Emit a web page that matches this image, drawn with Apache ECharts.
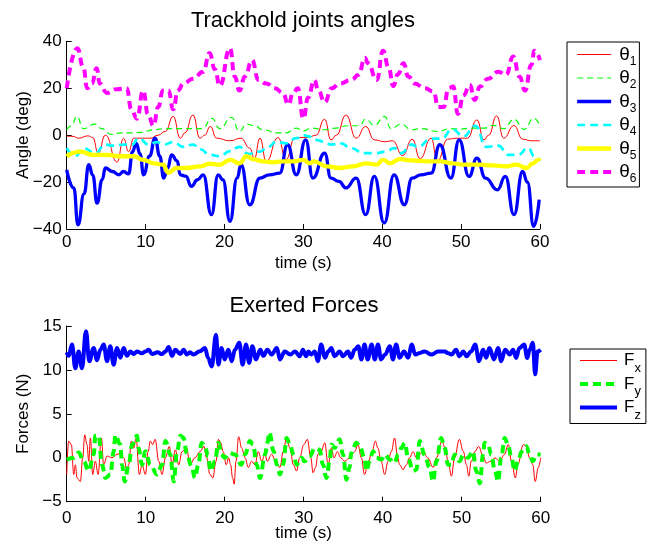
<!DOCTYPE html>
<html><head><meta charset="utf-8">
<script src="https://cdn.jsdelivr.net/npm/echarts/dist/echarts.min.js"></script>
<style>html,body{margin:0;padding:0;background:#fff}#c{width:647px;height:542px}</style>
</head><body><div id="c"></div>
<script>
// ---- data: [time (s), value] ----
const timeTicks = [0, 10, 20, 30, 40, 50, 60];
const angleTicks = [-40, -20, 0, 20, 40];
const forceTicks = [-5, 0, 5, 10, 15];
const angleNames = ['θ1','θ2','θ3','θ4','θ5','θ6'];
const forceNames = ['Fx','Fy','Fz'];

const theta1 = [[0,-0.5],[0.8,-0.5],[1.5,-1.3],[2.7,-0.3],[3.3,-1],[4.0,-7.7],[4.9,0],[6.4,-11.5],[7.2,-1.3],[7.85,-7],[8.5,-1.3],[9.5,-1.3],[10.6,-1.3],[11.6,0],[12.5,1.6],[13.5,8],[14.4,-1.3],[15.0,1],[16.0,8.6],[16.9,-1.3],[17.5,0],[18.2,3.7],[19.0,-1.3],[20.7,-2.4],[22.1,-1.3],[23.2,-5.5],[23.8,-9.8],[24.5,-1.3],[25.3,-11.2],[26.8,-1],[27.8,-10.5],[28.9,-1.3],[29.5,-1],[30.6,-1],[31.6,0],[32.7,6.8],[33.5,-2],[34.2,0],[35.4,8.6],[36.7,-1.3],[37.9,3.7],[39.0,-2],[40.3,-2.8],[41.3,-2.4],[42.6,-8.7],[43.8,-1.7],[44.8,-10],[46.2,-1.3],[47.0,-11],[48.3,-1.7],[49.5,-1.3],[50.8,-1.3],[52.0,6.5],[52.9,-2],[53.5,0],[54.5,8.2],[55.4,-1.3],[56.7,4.1],[57.8,-1.7],[58.9,-2.4],[60,-2.4]];
const theta2 = [[0,2.3],[0.6,4],[1.3,8],[2.1,2.8],[3.6,4.7],[4.4,2.8],[5.7,0.3],[6.9,1],[8.3,1],[9.5,1.2],[11,2.3],[12.5,2.8],[14.6,2.8],[16,2.8],[17.2,2.8],[18.4,7.2],[19.4,2.8],[20.9,7.6],[21.9,1.6],[22.8,4.7],[23.7,4.2],[24.9,2.3],[26.6,1],[27.8,1],[29.1,3],[30,1.8],[31,3],[32.7,2.3],[34.2,3],[35.6,4],[37.1,4],[37.9,6.8],[39,4.2],[40.3,8],[41.1,2.8],[42.4,4.7],[43.7,2.3],[44.9,2.8],[47,1.6],[48.7,2.8],[49.9,2.6],[51.2,3],[52.9,3],[54.1,4.2],[55.4,2.8],[56.7,6.8],[58,2.5],[59.2,7.2],[60,4]];
const theta3 = [[0,-14.8],[0.9,-22.5],[1.43,-38.2],[2.2,-25],[2.8,-12.6],[3.3,-17],[3.85,-29],[4.5,-19],[4.9,-14],[5.8,-15.5],[6.6,-16.9],[7.2,-15.5],[7.85,-16.5],[8.35,-7],[8.8,-3.4],[9.3,-8],[9.75,-16.9],[10.5,-9],[11.2,-1.3],[11.8,-9],[12.3,-18.3],[12.8,-14],[13.3,-8.4],[14.0,-11],[14.4,-16.9],[15.1,-17.5],[15.8,-21.8],[16.6,-19],[17.3,-16.9],[18.35,-33.9],[19.2,-16.9],[19.8,-19],[20.7,-36.7],[21.6,-18.3],[22.1,-12.6],[23.2,-29.7],[24.5,-18.3],[25.7,-16.9],[27,-16.2],[28,-4.1],[29.1,-16.9],[30.3,-2],[31.2,-18.3],[32.7,-7.7],[33.5,-18.3],[34.5,-19.7],[35.4,-22.5],[36.7,-18.3],[37.9,-33.9],[39,-17.6],[40.25,-37.4],[41.5,-16.9],[42.8,-29.7],[43.8,-18.3],[44.9,-16.9],[46.2,-16.2],[47.3,-4.1],[48.7,-18.3],[49.75,-2],[51,-17.6],[52,-9.8],[53.1,-18.3],[54.6,-23.3],[55.6,-17.6],[56.7,-33.9],[57.8,-15.5],[58.4,-20],[59.2,-38.9],[59.9,-27.5]];
const theta4 = [[0,-5.5],[1.1,-9],[2.1,-5.5],[3.6,-7.7],[4.9,-4],[5.9,-4.5],[7.2,-4],[8.3,-4],[9.1,-1.3],[10.4,-4],[11.4,-3],[12.3,-4],[13.5,-3],[14.8,-5],[16,-4],[16.9,-6],[18.2,-8.4],[19.4,-9],[20.7,-6.8],[21.9,-5],[23,-8],[24.5,-7],[25.5,-5],[26.6,-2.8],[27.8,-3.5],[29.1,-1.3],[30,0],[30.6,-0.5],[31.6,-2],[32.6,-2.8],[33.5,-4],[34.8,-3.5],[36,-5.5],[37.7,-7.7],[39.2,-7.7],[40.5,-7],[41.5,-5.5],[42.4,-7.7],[43.7,-4],[44.5,-5],[46.2,-1.5],[47.5,-1.5],[48.9,2.5],[50.3,-0.5],[51.8,4],[53.2,-5],[54.7,-4.5],[56,-8.4],[57.2,-8.4],[58.5,-5.5],[59.3,-9],[60,-11]];
const theta5 = [[0,-9],[1.7,-7],[3.4,-8.4],[5.1,-8.4],[6.8,-9],[8.5,-9],[9.7,-10.5],[11,-12],[12.2,-12.6],[12.9,-16],[13.9,-14],[15.2,-14],[16.9,-13.3],[18.1,-12.2],[19.4,-12.6],[20.7,-10.5],[21.9,-12],[22.8,-9],[23.6,-10.2],[24.9,-11.2],[26.1,-11.6],[27.4,-11.2],[28.7,-11.2],[30,-10.5],[30.8,-12],[31.3,-11.2],[33,-13.3],[34.6,-14],[36.3,-13.3],[38,-12],[39.3,-12.6],[40.1,-10.5],[41,-12],[42.2,-10.2],[43.9,-10.8],[45.6,-11.2],[47.3,-11.2],[49,-12],[50.3,-12.6],[52.4,-12.6],[54,-12.9],[55.7,-13.3],[57,-12.6],[58.3,-14],[59.1,-12],[59.8,-10.5],[60,-11]];
const theta6 = [[0,20],[1.35,37],[2.1,29],[2.6,20],[3.2,22],[3.8,28.5],[4.2,22],[5.1,18],[6.3,19.6],[7.6,20],[8.2,11],[8.9,7],[9.7,19],[10.3,9],[11,4],[11.6,12],[12.2,19],[12.9,19],[13.5,11],[14.1,19],[14.8,22],[16,24],[17.3,27],[18.1,35],[18.8,28],[19.4,21],[20.7,37],[21.3,25],[21.9,19],[22.6,25],[23.5,32],[24.3,23.5],[25.3,22],[26.4,20],[27.4,18],[28.1,13],[28.7,18],[29.3,20],[30,7],[30.6,16],[31.4,23.5],[31.9,19],[32.7,14],[33.6,20],[34.6,22],[36.1,23.5],[37,25.7],[37.8,33],[38.2,30.6],[39.3,23.5],[40.1,36],[40.8,29],[41.4,21],[42,26],[42.7,30.6],[43.3,25],[44.1,22],[45.4,20],[46.5,18.6],[47.1,12],[47.8,12],[48.4,20],[49,20.7],[49.6,9],[50.3,17],[51.1,21.4],[51.7,15],[52.4,20.7],[53.4,24],[54.7,27],[55.7,25.7],[56.6,33.5],[57.4,25],[58.1,19],[58.9,30],[59.3,36],[60,32]];

const forceX = [[0,-1.9],[0.25,1.9],[0.59,1.5],[0.89,-1.9],[1.1,-0.8],[1.31,-2.3],[1.73,-2.7],[2.03,0],[2.28,2.6],[2.57,1.5],[2.79,-0.4],[3.0,2.25],[3.29,-1.9],[3.63,-0.4],[3.97,-1.9],[4.39,2.25],[4.68,-0.8],[5.1,0.2],[5.74,0],[6.37,0.4],[6.79,0.5],[7.22,0],[7.64,-1.5],[7.85,-0.8],[8.19,1.9],[8.48,1.1],[8.78,2.25],[9.2,-1.9],[9.54,-0.8],[9.96,-1.9],[10.3,0.7],[10.59,1.9],[10.89,1.5],[11.2,2.1],[11.65,-0.4],[12.07,-1.9],[12.49,0],[13.0,1.3],[13.33,-0.8],[13.76,0.9],[14.18,-0.8],[14.6,0.7],[15.18,1.1],[15.6,-0.8],[16.24,0],[16.87,0.7],[17.38,1.3],[17.7,0],[18.14,-1.9],[18.5,-2.3],[18.9,-0.4],[19.2,2.1],[19.5,1.7],[19.8,0.7],[20.2,-0.8],[20.5,0],[20.75,-0.8],[21.0,-2.3],[21.2,-3.0],[21.43,-0.4],[21.77,2.4],[22.15,1.1],[22.57,0],[23.0,-1.1],[23.4,-0.4],[23.83,-0.8],[24.26,0.7],[24.68,-0.4],[25.1,0.4],[25.4,-0.4],[25.94,0.4],[26.37,-0.2],[27.0,-1.1],[27.4,0.7],[27.84,2.25],[28.26,1.1],[28.69,-0.8],[29.1,-1.5],[29.5,0],[30.0,1.5],[30.46,2.1],[30.9,0],[31.18,-1.7],[31.5,-1.1],[31.8,0.4],[32.2,0.7],[32.66,1.7],[33.1,-0.8],[33.5,1.1],[33.84,0],[34.26,0.7],[34.68,0],[35.2,-0.4],[35.8,0],[36.45,0.7],[36.87,1.5],[37.3,0],[37.7,-1.9],[38.1,-0.8],[38.65,0.7],[39.07,1.9],[39.4,1.1],[39.8,-0.4],[40.25,-1.9],[40.67,-0.4],[41.1,0.7],[41.5,2.25],[41.9,0],[42.15,-0.8],[42.57,-1.35],[43.0,-0.8],[43.4,0],[43.84,0.7],[44.26,0],[44.7,0.4],[45.1,0.74],[45.7,0],[46.4,-1.1],[46.8,0],[47.5,1.9],[47.9,1.1],[48.35,-0.8],[48.7,-2.1],[49.1,0],[49.7,2.1],[50.2,0.74],[50.6,-0.8],[50.9,-2.1],[51.2,-0.4],[51.7,0.74],[52.15,1.3],[52.7,0.2],[53.1,-0.6],[53.7,-0.4],[54.2,0],[54.8,-0.4],[55.4,0.36],[55.9,1.5],[56.3,-0.4],[56.8,-2.3],[57.1,-0.78],[57.8,1.5],[58.2,1.3],[58.6,0],[59.0,-0.78],[59.3,-2.7],[59.7,-1.1],[60,0]];
const forceY = [[0,-0.2],[0.89,0],[1.52,0.6],[2.15,-0.4],[2.79,-1.5],[3.42,0.4],[3.63,2.5],[4.05,2.5],[4.47,-0.8],[4.9,-2.3],[5.53,-1.9],[5.95,0.74],[6.16,2.6],[6.79,1.5],[7.0,-0.8],[7.34,-2.7],[7.85,-0.8],[8.27,1.5],[8.9,2.5],[9.1,1.1],[9.54,-0.8],[9.96,0.74],[10.59,-0.8],[11.44,-1.9],[12.07,-0.8],[12.49,1.9],[13.1,0.4],[13.54,-2.7],[13.97,0.74],[14.39,2.5],[14.8,2.25],[15.18,0.55],[15.8,-0.97],[16.24,-2.3],[16.66,-0.8],[17.08,1.7],[17.5,1.3],[17.9,0.17],[18.2,-1.5],[18.77,-0.4],[19.19,1.7],[19.6,0.36],[20.0,0],[20.6,0.55],[21.3,0.36],[22.1,-0.78],[22.57,0.36],[23.2,1.9],[23.6,1.5],[24.05,-0.78],[24.47,-2.3],[25.1,0.36],[25.4,1.7],[25.65,2.9],[26.2,0.74],[26.6,-0.78],[27.0,-1.9],[27.4,-0.78],[27.84,2.25],[28.26,1.5],[28.7,0.36],[29.1,-0.78],[29.74,0],[30.1,-0.4],[30.76,0.17],[31.4,1.1],[32.0,0.93],[32.44,-0.78],[32.87,-2.3],[33.29,-0.4],[33.5,1.5],[33.9,1.1],[34.55,2.1],[34.98,0.36],[35.4,-2.5],[35.8,-1.1],[36.03,0.55],[36.66,1.7],[37.1,1.3],[37.7,0],[37.93,-1.5],[38.35,-0.4],[38.77,0.74],[39.2,0],[39.83,-0.2],[40.3,0.36],[40.88,-0.2],[41.5,-0.6],[41.94,0.36],[42.36,1.1],[42.8,1.7],[43.2,0],[43.84,-1.5],[44.26,-1.35],[44.68,1.9],[45.3,0.36],[45.95,-1.15],[46.37,-2.7],[46.8,-0.4],[47.4,2.25],[47.85,1.1],[48.27,-0.8],[48.7,-0.8],[49.1,0.36],[49.74,-0.4],[50.2,0.36],[50.8,0],[51.4,0.74],[51.85,-1.5],[52.3,-2.9],[52.7,0.36],[52.9,1.7],[53.33,1.5],[53.75,0.36],[54.2,-1.5],[54.6,-2.7],[55.0,0],[55.44,2.25],[55.86,1.5],[56.3,0],[56.7,-1.5],[57.13,-0.4],[57.6,0.74],[58.18,1.3],[58.6,0.36],[59.0,-0.4],[59.45,0.36],[60,0.36]];
const forceZ = [[0,12.0],[0.25,11.6],[0.67,12.9],[1.09,10.2],[1.51,12.1],[1.94,10.2],[2.44,14.4],[2.86,11.0],[3.41,12.5],[3.84,11.1],[4.26,12.3],[4.68,12.9],[5.1,11.0],[5.52,12.7],[5.94,10.6],[6.37,12.5],[6.79,11.4],[7.21,12.5],[7.63,11.6],[8.05,12.1],[8.47,11.8],[8.9,12.1],[9.5,11.9],[10.0,12.1],[10.37,12.3],[10.8,11.8],[11.5,12.0],[12.06,11.8],[12.5,12.1],[12.9,12.6],[13.33,11.6],[13.75,12.3],[14.38,11.8],[14.8,12.3],[15.2,11.75],[15.6,12.0],[16.03,11.75],[16.87,12.13],[17.5,12.5],[17.9,11.36],[18.35,10.4],[18.9,14.0],[19.2,10.6],[19.6,12.5],[20.0,11.2],[20.46,12.3],[20.88,11.0],[21.3,12.3],[21.85,13.1],[22.27,10.6],[22.7,12.9],[23.1,10.8],[23.5,12.7],[23.96,11.2],[24.5,12.3],[24.9,11.6],[25.4,12.3],[25.94,11.75],[26.6,12.5],[27.0,11.2],[27.6,12.1],[28.3,11.75],[28.9,12.1],[29.5,11.56],[29.9,12.3],[30.3,11.56],[30.6,12.1],[30.97,11.75],[31.4,12.1],[31.8,11.0],[32.2,12.9],[32.7,11.4],[33.1,12.1],[33.5,12.5],[33.9,11.56],[34.55,12.1],[34.98,11.56],[35.6,12.1],[36.0,11.4],[36.45,12.3],[36.9,12.7],[37.3,11.2],[37.7,12.9],[38.1,11.2],[38.6,12.9],[39.0,11.2],[39.4,12.9],[39.8,11.2],[40.3,11.75],[40.9,12.7],[41.3,11.2],[41.7,12.9],[42.15,11.4],[42.7,12.1],[43.2,11.4],[43.7,12.9],[44.1,11.75],[44.6,11.9],[45.3,12.1],[46.2,11.75],[47.0,12.1],[47.85,12.1],[48.3,11.9],[48.7,11.75],[49.3,12.3],[49.7,11.56],[50.2,12.1],[50.6,11.56],[51.2,12.1],[51.7,12.9],[52.2,11.0],[52.7,12.3],[53.1,11.4],[53.5,12.5],[54.1,11.2],[54.6,12.5],[55.0,11.0],[55.5,12.3],[56.1,11.75],[56.5,12.3],[56.9,11.36],[57.3,12.5],[57.9,12.9],[58.3,11.36],[58.6,12.3],[59.0,13.1],[59.3,9.5],[59.6,12.1],[60,12.3]];

// ---- styles (not data) ----
const angleColors = ['#ff0000', '#00ff00', '#0000ff', '#00ffff', '#ffff00', '#ff00ff'];
const forceColors = ['#ff0000', '#00ff00', '#0000ff'];

// ---- chart ----
const FONT = '"Liberation Sans", Arial, Helvetica, sans-serif';
const chart = echarts.init(document.getElementById('c'), null, {renderer: 'canvas'});
const fmtNum = v => (v < 0 ? '\u2212' + Math.abs(v) : String(v));
const txt = {color: '#000', fontSize: 17, fontFamily: FONT};

function xAxisCfg(grid, margin, nameGap) {
  return {
    gridIndex: grid, type: 'value', min: timeTicks[0], max: timeTicks[timeTicks.length - 1],
    interval: timeTicks[1] - timeTicks[0],
    axisLine: {show: true, onZero: false, lineStyle: {color: '#000', width: 1}},
    axisTick: {show: true, inside: true, length: 5, lineStyle: {color: '#000', width: 1}},
    splitLine: {show: false},
    axisLabel: Object.assign({margin: margin, showMinLabel: true, showMaxLabel: true, hideOverlap: false}, txt),
    name: 'time (s)', nameLocation: 'middle', nameGap: nameGap, nameMoveOverlap: false, nameTextStyle: txt
  };
}
function yAxisCfg(grid, ticks, name) {
  return {
    gridIndex: grid, type: 'value', min: ticks[0], max: ticks[ticks.length - 1],
    interval: ticks[1] - ticks[0],
    axisLine: {show: true, onZero: false, lineStyle: {color: '#000', width: 1}},
    axisTick: {show: true, inside: true, length: 5, lineStyle: {color: '#000', width: 1}},
    splitLine: {show: false},
    axisLabel: Object.assign({margin: 5, formatter: fmtNum, showMinLabel: true, showMaxLabel: true, hideOverlap: false}, txt),
    name: name, nameLocation: 'middle', nameGap: 35, nameMoveOverlap: false, nameTextStyle: txt
  };
}
function lineSeries(name, data, color, width, type, xi, smooth) {
  return {
    name: name, type: 'line', xAxisIndex: xi, yAxisIndex: xi, data: data,
    symbol: 'none', smooth: smooth, smoothMonotone: 'x', color: color,
    itemStyle: {color: color},
    lineStyle: {color: color, width: width, type: type, cap: 'butt'},
    emphasis: {disabled: true}, silent: true, animation: false
  };
}
function legendCfg(names, colors, left, top, iw, sym, aSize, bSize, pad, aPad) {
  return {
    orient: 'vertical', left: left, top: top,
    data: names.map((n, i) => ({name: n, lineStyle: {color: colors[i], opacity: 1}})),
    itemWidth: iw, itemHeight: 10, itemGap: 1, padding: pad,
    borderColor: '#000', borderWidth: 1, backgroundColor: '#fff', borderRadius: 0,
    selectedMode: false, lineStyle: {width: 'inherit'},
    itemStyle: {opacity: 0},
    formatter: n => '{a|' + sym + '}{b|' + n.slice(1) + '}',
    textStyle: {rich: {
      a: {fontSize: aSize, fontFamily: FONT, color: '#000', lineHeight: 30, verticalAlign: 'middle', padding: [0, 0, 0, aPad]},
      b: {fontSize: bSize, fontFamily: FONT, color: '#000', verticalAlign: 'top', padding: [16, 0, 0, 0]}
    }}
  };
}

const option = {
  backgroundColor: '#fff',
  animation: false,
  title: [
    {text: 'Trackhold joints angles', left: 303, top: 10, textAlign: 'center', padding: 0,
     textStyle: {fontSize: 22, fontWeight: 'normal', color: '#000', fontFamily: FONT}},
    {text: 'Exerted Forces', left: 304, top: 295, textAlign: 'center', padding: 0,
     textStyle: {fontSize: 22, fontWeight: 'normal', color: '#000', fontFamily: FONT}}
  ],
  grid: [
    {left: 66.7, right: 107, top: 41.3, bottom: 313, containLabel: false, outerBoundsMode: 'none'},
    {left: 66.7, right: 106.3, top: 326, bottom: 40.3, containLabel: false, outerBoundsMode: 'none'}
  ],
  xAxis: [xAxisCfg(0, 5, 26), xAxisCfg(1, 8, 23)],
  yAxis: [yAxisCfg(0, angleTicks, 'Angle (deg)'), yAxisCfg(1, forceTicks, 'Forces (N)')],
  legend: [
    legendCfg(angleNames, angleColors, 567, 42, 34, 'θ', 19, 12, [3, 3, 2, 8], 3),
    legendCfg(forceNames, forceColors, 570, 349, 37, 'F', 17, 13, [3, 5, 2, 8], 2)
  ],
  series: [
    lineSeries(angleNames[0], theta1, angleColors[0], 1, 'solid', 0, 0.5),
    lineSeries(angleNames[1], theta2, angleColors[1], 1.2, [6, 4], 0, 0.5),
    lineSeries(angleNames[2], theta3, angleColors[2], 3.3, 'solid', 0, 0.5),
    lineSeries(angleNames[3], theta4, angleColors[3], 2.7, [8, 5], 0, 0.5),
    lineSeries(angleNames[4], theta5, angleColors[4], 4.3, 'solid', 0, 0.5),
    lineSeries(angleNames[5], theta6, angleColors[5], 4, [8, 5], 0, 0.5),
    lineSeries(forceNames[0], forceX, forceColors[0], 1, 'solid', 1, 0.4),
    lineSeries(forceNames[1], forceY, forceColors[1], 4, [8, 5], 1, 0.4),
    lineSeries(forceNames[2], forceZ, forceColors[2], 4, 'solid', 1, 0.4)
  ]
};
chart.setOption(option);
</script></body></html>
